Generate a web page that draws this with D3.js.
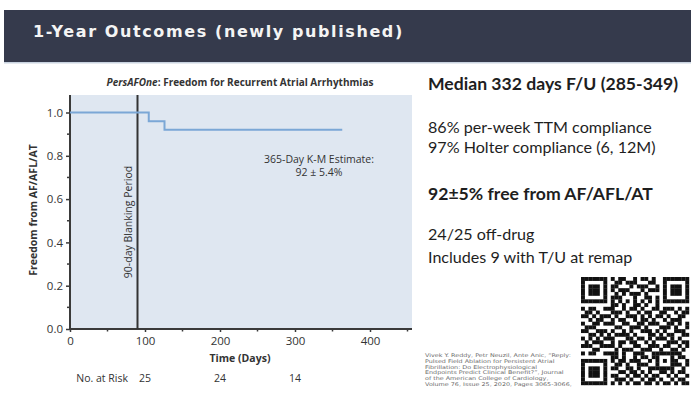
<!DOCTYPE html>
<html><head><meta charset="utf-8">
<script src="https://cdn.jsdelivr.net/npm/d3@7/dist/d3.min.js"></script>
<style>
html,body{margin:0;padding:0;background:#fff;}
svg{display:block;}
</style></head>
<body>
<svg id="c" width="696" height="394"></svg>
<script>
// ---- data ----
const headerTitle = "1-Year Outcomes (newly published)";
const chartTitleItalic = "PersAFOne";
const chartTitleRest = ": Freedom for Recurrent Atrial Arrhythmias";
const kmDays = [0, 105, 126, 363];          // step change days (last = end of follow-up)
const kmSurvival = [1.0, 0.96, 0.92, 0.92];
const blankingDay = 90;
const blankingLabel = "90-day Blanking Period";
const xTicks = [0, 100, 200, 300, 400];
const xMinorTicks = [50, 150, 250, 350, 450];
const yTicks = [0.0, 0.2, 0.4, 0.6, 0.8, 1.0];
const yMinorTicks = [0.1, 0.3, 0.5, 0.7, 0.9];
const xLabel = "Time (Days)";
const yLabel = "Freedom from AF/AFL/AT";
const estimateLines = ["365-Day K-M Estimate:", "92 \u00b1 5.4%"];
const riskLabel = "No. at Risk";
const riskDays = [100, 200, 300];
const riskCounts = [25, 24, 14];
const bullets = [
  {t:"Median 332 days F/U (285-349)", b:true},
  {t:"86% per-week TTM compliance", b:false},
  {t:"97% Holter compliance (6, 12M)", b:false},
  {t:"92\u00b15% free from AF/AFL/AT", b:true},
  {t:"24/25 off-drug", b:false},
  {t:"Includes 9 with T/U at remap", b:false}
];
const citation = [
  "Vivek Y. Reddy, Petr Neuzil, Ante Anic, \u201cReply:",
  "Pulsed Field Ablation for Persistent Atrial",
  "Fibrillation: Do Electrophysiological",
  "Endpoints Predict Clinical Benefit?\u201d, Journal",
  "of the American College of Cardiology,",
  "Volume 76, Issue 25, 2020, Pages 3065-3066,"
];
const qrRows = [
"1111111010110010110100"+"1111111",
"1000001001101110001100"+"1000001",
"1011101011000101110010"+"1011101",
"1011101010111000101110"+"1011101",
"1011101001010111010000"+"1011101",
"1000001011100010011010"+"1000001",
"1111111010101010101010"+"1111111",
"00000000"+"1101001101001"+"00000000",
"1011001110"+"0101101001"+"101110101",
"0110100011"+"1010010110"+"011001011",
"1101011101"+"0011101010"+"110100110",
"0010110010"+"1100101101"+"001011100",
"1001101110"+"0110011011"+"100110101",
"0111000001"+"1001110100"+"011101001",
"1100111010"+"0101001110"+"101001110",
"0011010101"+"1110100011"+"010110011",
"1010101110"+"0011011010"+"111010100",
"0101110010"+"1101100101"+"000111011",
"1110011110"+"1000110011"+"101100101",
"0001100001"+"0111001110"+"010011010",
"1011001111"+"0100111001"+"111111100",
"00000000"+"110100101101"+"10001"+"0110",
"1111111"+"0"+"101101110010"+"10101"+"1001",
"1000001"+"0"+"011010011100"+"10001"+"1101",
"1011101"+"0"+"110011010011"+"11111"+"0010",
"1011101"+"0"+"001101101010011010110",
"1011101"+"0"+"110010110101100101001",
"1000001"+"0"+"011101001011010010110",
"1111111"+"0"+"101010110110101101011"
];

// ---- drawing ----
const svg = d3.select("#c");

// header bar
svg.append("rect").attr("x",4).attr("y",10).attr("width",687).attr("height",52).attr("fill","#353a4c");
svg.append("rect").attr("x",4).attr("y",62).attr("width",687).attr("height",1.5).attr("fill","#c9d3e0");
svg.append("text").attr("x",33).attr("y",37).attr("fill","#f4f4f4")
  .attr("font-family","DejaVu Sans").attr("font-weight","bold").attr("font-size",16)
  .attr("letter-spacing",1.6).text(headerTitle);

// chart
const x = d3.scaleLinear().domain([0,400]).range([70,370]);
const y = d3.scaleLinear().domain([0,1]).range([329,112.5]);
const xMax = x.invert(412), yTop = y.invert(95);
const chartFont = "'Open Sans', 'Noto Sans', sans-serif";

svg.append("rect").attr("x",x(0)).attr("y",y(yTop)).attr("width",x(xMax)-x(0)).attr("height",y(0)-y(yTop))
  .attr("fill","#dfe7f1");

// title
const tt = svg.append("text").attr("x",240).attr("y",86).attr("text-anchor","middle")
  .attr("font-family",chartFont).attr("font-size",10).attr("font-weight","bold").attr("fill","#333");
tt.append("tspan").attr("font-style","italic").text(chartTitleItalic);
tt.append("tspan").text(chartTitleRest);

// axes
const axisColor = "#3a3a3a";
const xAxis = d3.axisBottom(x).tickValues(xTicks).tickSize(3).tickFormat(d3.format("d"));
const gx = svg.append("g").attr("transform",`translate(0,${y(0)})`).call(xAxis);
gx.select(".domain").attr("d",`M${x(0)},0H${x(xMax)}`).attr("stroke",axisColor).attr("stroke-width",2);
gx.selectAll(".tick line").attr("stroke",axisColor).attr("stroke-width",1.5);
gx.selectAll(".tick text").attr("font-family",chartFont).attr("font-size",11.5).attr("fill","#333").attr("dy","0.9em");
gx.selectAll(".minor").data(xMinorTicks.filter(d=>d<=xMax)).enter().append("line")
  .attr("x1",d=>x(d)).attr("x2",d=>x(d)).attr("y1",0).attr("y2",2.5).attr("stroke",axisColor).attr("stroke-width",1.5);

const yAxis = d3.axisLeft(y).tickValues(yTicks).tickSize(4).tickFormat(d3.format(".1f"));
const gy = svg.append("g").attr("transform",`translate(${x(0)},0)`).call(yAxis);
gy.select(".domain").attr("d",`M0,${y(yTop)}V${y(0)}`).attr("stroke",axisColor).attr("stroke-width",2);
gy.selectAll(".tick line").attr("stroke",axisColor).attr("stroke-width",1.5);
gy.selectAll(".tick text").attr("font-family",chartFont).attr("font-size",11.5).attr("fill","#333");
gy.selectAll(".minor").data(yMinorTicks).enter().append("line")
  .attr("x1",-3).attr("x2",0).attr("y1",d=>y(d)).attr("y2",d=>y(d)).attr("stroke",axisColor).attr("stroke-width",1.5);

// blanking line
svg.append("line").attr("x1",x(blankingDay)).attr("x2",x(blankingDay)).attr("y1",y(yTop)).attr("y2",y(0))
  .attr("stroke","#333").attr("stroke-width",2);
svg.append("text").attr("transform",`translate(${x(blankingDay)-8},222) rotate(-90)`)
  .attr("text-anchor","middle").attr("dominant-baseline","middle")
  .attr("font-family",chartFont).attr("font-size",10.5).attr("fill","#333").text(blankingLabel);

// KM curve
const kmData = kmDays.map((d,i)=>({d, s:kmSurvival[i]}));
svg.append("path").datum(kmData)
  .attr("d", d3.line().x(p=>x(p.d)).y(p=>y(p.s)).curve(d3.curveStepAfter))
  .attr("fill","none").attr("stroke","#7ba7d6").attr("stroke-width",2);

// estimate text
svg.selectAll(".est").data(estimateLines).enter().append("text")
  .attr("x",319).attr("y",(d,i)=>163+i*12.5).attr("text-anchor","middle")
  .attr("font-family",chartFont).attr("font-size",10.5).attr("fill","#333").text(d=>d);

// axis labels
svg.append("text").attr("x",240).attr("y",362).attr("text-anchor","middle")
  .attr("font-family",chartFont).attr("font-size",10.5).attr("font-weight","bold").attr("fill","#333").text(xLabel);
svg.append("text").attr("transform","translate(34,210) rotate(-90)").attr("text-anchor","middle")
  .attr("dominant-baseline","middle")
  .attr("font-family",chartFont).attr("font-size",10.5).attr("font-weight","bold").attr("fill","#333").text(yLabel);

// number at risk
svg.append("text").attr("x",128).attr("y",382).attr("text-anchor","end")
  .attr("font-family",chartFont).attr("font-size",10.5).attr("fill","#333").text(riskLabel);
svg.selectAll(".risk").data(riskCounts).enter().append("text")
  .attr("x",(d,i)=>x(riskDays[i])).attr("y",382).attr("text-anchor","middle")
  .attr("font-family",chartFont).attr("font-size",10.5).attr("fill","#333").text(d=>d);

// right text
const bulletY = [85, 129, 149, 195, 236, 259];
svg.selectAll(".bul").data(bullets).enter().append("text")
  .attr("x",428).attr("y",(d,i)=>bulletY[i]).attr("dominant-baseline","middle")
  .attr("font-family","Lato, 'Open Sans', sans-serif").attr("font-size",d=>d.b?17.6:16.1)
  .attr("font-weight",d=>d.b?"bold":"normal").attr("fill","#1e1e1e").text(d=>d.t);

// citation (stretched horizontally to the reference block width)
const citG = svg.append("g");
const citT = citG.selectAll(".cit").data(citation).enter().append("text")
  .attr("x",0).attr("y",(d,i)=>357+i*5.8)
  .attr("font-family","'DejaVu Sans', sans-serif").attr("font-size",5.0).attr("fill","#6a6a6a").text(d=>d);
const citW = d3.max(citT.nodes(), nd=>nd.getComputedTextLength());
citG.attr("transform",`translate(425,0) scale(${147/citW},1)`);

// QR code
const n = qrRows.length, qx = 581, qy = 277, qs = 108/n;
const cells = [];
qrRows.forEach((row,r)=>row.split("").forEach((c,k)=>{ if(c==="1") cells.push({r,k}); }));
svg.append("g").selectAll("rect").data(cells).enter().append("rect")
  .attr("x",d=>qx+d.k*qs).attr("y",d=>qy+d.r*qs).attr("width",qs+0.2).attr("height",qs+0.2).attr("fill","#111");
</script>
</body></html>
